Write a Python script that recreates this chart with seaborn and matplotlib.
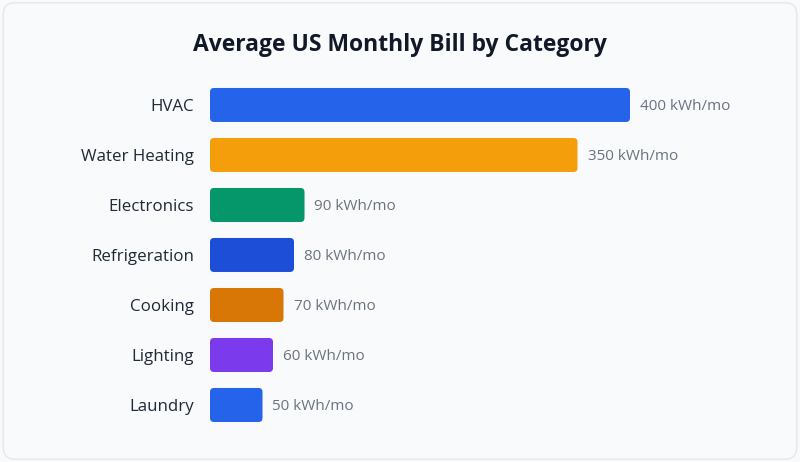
import seaborn as sns
import matplotlib.pyplot as plt
import pandas as pd
from matplotlib.patches import FancyBboxPatch

# data
categories = ['HVAC', 'Water Heating', 'Electronics', 'Refrigeration', 'Cooking', 'Lighting', 'Laundry']
usage_kwh = [400, 350, 90, 80, 70, 60, 50]
bar_colors = ['#2563eb', '#f59e0b', '#059669', '#1d4ed8', '#d97706', '#7c3aed', '#2563eb']

df = pd.DataFrame({'category': categories, 'kwh': usage_kwh})

sns.set_theme(style='white')
plt.rcParams['font.family'] = ['Open Sans', 'DejaVu Sans']

fig = plt.figure(figsize=(8, 4.62), dpi=100)
fig.patch.set_facecolor('#f8fafc')

# card border
card = FancyBboxPatch((0.004, 0.006), 0.992, 0.988, boxstyle='round,pad=0,rounding_size=0.015',
                      transform=fig.transFigure, facecolor='#f8fafc', edgecolor='#e5e7eb',
                      linewidth=1, mutation_aspect=800 / 462, zorder=-1)
fig.patches.append(card)

ax = fig.add_axes([0.2625, 0.0693, 0.70, 0.7576])
ax.set_facecolor('none')

sns.barplot(data=df, x='kwh', y='category', hue='category', palette=bar_colors,
            saturation=1, legend=False, width=0.68, orient='h', ax=ax)

ax.set_xlim(0, 560 / 1.05)
ax.set_ylim(6.5, -0.5)

# rounded bars
for p in list(ax.patches):
    x0, y0 = p.get_x(), p.get_y()
    w, h = p.get_width(), p.get_height()
    fc = p.get_facecolor()
    p.remove()
    ax.add_patch(FancyBboxPatch((x0, y0), w, h, boxstyle='round,pad=0,rounding_size=3.8',
                                mutation_aspect=1.05 / 50, facecolor=fc, edgecolor='none'))

for i, v in enumerate(usage_kwh):
    ax.text(v + 10 / 1.05, i, f'{v} kWh/mo', va='center_baseline', ha='left',
            fontsize=11, color='#6b7280')

ax.set_xlabel('')
ax.set_ylabel('')
ax.set_xticks([])
ax.tick_params(axis='y', length=0, pad=11.5, labelsize=12.2, labelcolor='#1f2937')
sns.despine(ax=ax, left=True, bottom=True)

fig.text(0.5, 1 - 45 / 462, 'Average US Monthly Bill by Category', ha='center', va='center',
         fontsize=16.5, fontweight='bold', color='#111827')

fig.savefig('out.png', dpi=100, facecolor=fig.get_facecolor())
